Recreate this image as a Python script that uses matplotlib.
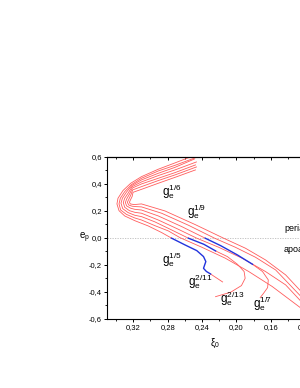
import matplotlib
matplotlib.use('Agg')
import matplotlib.pyplot as plt
from matplotlib.ticker import MultipleLocator, FuncFormatter

plt.rcParams['font.family'] = ['Liberation Sans', 'DejaVu Sans']
plt.rcParams['mathtext.fontset'] = 'custom'
plt.rcParams['mathtext.rm'] = 'Liberation Sans'
plt.rcParams['mathtext.it'] = 'Liberation Sans'

# ── Data: xi_0 vs e_p ─────────────────────────────────────────────
# family 1 (g_e^{1/5}): red part, blue part, red tail
o1_xi = [0.2535, 0.2714, 0.2909, 0.3104, 0.3229, 0.3319, 0.3377, 0.3389, 0.3365, 0.3299, 0.3182, 0.3026, 0.2870, 0.2753]
o1_e  = [0.600, 0.556, 0.509, 0.454, 0.405, 0.351, 0.294, 0.252, 0.202, 0.163, 0.128, 0.089, 0.040, -0.002]
o1b_xi = [0.2753, 0.2597, 0.2461, 0.2383, 0.2356, 0.2383, 0.2350, 0.2301]
o1b_e  = [-0.002, -0.052, -0.094, -0.138, -0.175, -0.225, -0.248, -0.267]
o1t_xi = [0.2301, 0.2161]
o1t_e  = [-0.267, -0.326]

o2_xi = [0.2453, 0.2714, 0.2909, 0.3104, 0.3221, 0.3299, 0.3350, 0.3365, 0.3346, 0.3280, 0.3182, 0.3104,
         0.2948, 0.2792, 0.2656, 0.2402, 0.2130, 0.1857, 0.1584, 0.1248]
o2_e  = [0.600, 0.538, 0.496, 0.442, 0.395, 0.343, 0.294, 0.252, 0.207, 0.175, 0.148, 0.133,
         0.091, 0.052, 0.002, -0.069, -0.150, -0.249, -0.360, -0.521]

# family 3 (g_e^{2/13}): red, blue, red hook
o3_xi = [0.2488, 0.2714, 0.2909, 0.3104, 0.3217, 0.3280, 0.3326, 0.3342, 0.3322, 0.3260, 0.3182, 0.3104, 0.2948, 0.2753, 0.2558]
o3_e  = [0.585, 0.523, 0.479, 0.430, 0.388, 0.338, 0.294, 0.257, 0.217, 0.188, 0.168, 0.158, 0.119, 0.059, -0.002]
o3b_xi = [0.2558, 0.2379, 0.2243]
o3b_e  = [-0.002, -0.047, -0.096]
o3t_xi = [0.2243, 0.2106, 0.1989, 0.1911, 0.1899, 0.1942, 0.2067, 0.2243]
o3t_e  = [-0.096, -0.138, -0.195, -0.249, -0.299, -0.353, -0.402, -0.435]

o4_xi = [0.2465, 0.2714, 0.2909, 0.3104, 0.3213, 0.3260, 0.3299, 0.3315, 0.3299, 0.3244, 0.3182, 0.3104,
         0.2909, 0.2675, 0.2461, 0.2207, 0.1935, 0.1662, 0.1428, 0.1248]
o4_e  = [0.563, 0.504, 0.462, 0.415, 0.380, 0.331, 0.294, 0.262, 0.227, 0.202, 0.190, 0.183,
         0.133, 0.064, -0.002, -0.069, -0.150, -0.249, -0.348, -0.471]

# family 5 (g_e^{1/7}): red, blue, red hook
o5_xi = [0.2476, 0.2714, 0.2909, 0.3104, 0.3209, 0.3244, 0.3276, 0.3291, 0.3276, 0.3229, 0.3182, 0.3104, 0.2909, 0.2636, 0.2363]
o5_e  = [0.541, 0.484, 0.442, 0.400, 0.370, 0.324, 0.289, 0.262, 0.237, 0.220, 0.212, 0.207, 0.163, 0.084, -0.002]
o5b_xi = [0.2363, 0.2184, 0.1989, 0.1814]
o5b_e  = [-0.002, -0.057, -0.126, -0.195]
o5t_xi = [0.1814, 0.1697, 0.1630, 0.1638, 0.1685, 0.1724]
o5t_e  = [-0.195, -0.249, -0.311, -0.368, -0.410, -0.442]

o6_xi = [0.2465, 0.2714, 0.2909, 0.3104, 0.3206, 0.3229, 0.3252, 0.3268, 0.3252, 0.3213, 0.3163, 0.3104,
         0.2870, 0.2558, 0.2254, 0.2013, 0.1779, 0.1545, 0.1248]
o6_e  = [0.526, 0.467, 0.425, 0.380, 0.356, 0.316, 0.286, 0.264, 0.244, 0.235, 0.232, 0.230,
         0.183, 0.094, -0.002, -0.069, -0.143, -0.237, -0.435]

o7_xi = [0.2476, 0.2714, 0.2909, 0.3104, 0.3202, 0.3213, 0.3233, 0.3244, 0.3233, 0.3190, 0.3104,
         0.2831, 0.2480, 0.2149, 0.1896, 0.1662, 0.1428, 0.1248]
o7_e  = [0.504, 0.449, 0.405, 0.360, 0.338, 0.306, 0.281, 0.264, 0.252, 0.247, 0.252,
         0.200, 0.099, -0.002, -0.076, -0.163, -0.274, -0.397]

red_curves  = [(o1_xi, o1_e), (o1t_xi, o1t_e), (o2_xi, o2_e), (o3_xi, o3_e), (o3t_xi, o3t_e),
               (o4_xi, o4_e), (o5_xi, o5_e), (o5t_xi, o5t_e), (o6_xi, o6_e), (o7_xi, o7_e)]
blue_curves = [(o1b_xi, o1b_e), (o3b_xi, o3b_e), (o5b_xi, o5b_e)]

labels   = [r'$\mathrm{g}_e^{1/6}$', r'$\mathrm{g}_e^{1/9}$', r'$\mathrm{g}_e^{1/5}$',
            r'$\mathrm{g}_e^{2/11}$', r'$\mathrm{g}_e^{2/13}$', r'$\mathrm{g}_e^{1/7}$']
label_xi = [0.2754, 0.2461, 0.2754, 0.242, 0.205, 0.170]
label_e  = [0.343, 0.195, -0.160, -0.324, -0.447, -0.484]

# ── Plot ───────────────────────────────────────────────────────────
fig = plt.figure(figsize=(3.0, 3.88), dpi=100)
ax = fig.add_axes([0.358, 0.178, 0.717, 0.4175])

for xs, ys in red_curves:
    ax.plot(xs, ys, color='#ff5c5c', lw=0.6)
for xs, ys in blue_curves:
    ax.plot(xs, ys, color='#2233dd', lw=1.0)

ax.axhline(0.0, color='#bbbbbb', lw=0.6, ls=(0, (1.5, 1.5)), zorder=0)

for lab, lx, ly in zip(labels, label_xi, label_e):
    ax.text(lx, ly, lab, fontsize=8.5, ha='center', va='center')

ax.text(0.1447, 0.067, 'periapsis', fontsize=6.5, ha='left', va='center')
ax.text(0.1447, -0.089, 'apoapsis', fontsize=6.5, ha='left', va='center')

ax.set_xlim(0.35, 0.10)
ax.set_ylim(-0.6, 0.6)
ax.xaxis.set_major_locator(MultipleLocator(0.04))
ax.xaxis.set_minor_locator(MultipleLocator(0.02))
ax.yaxis.set_major_locator(MultipleLocator(0.2))
ax.yaxis.set_minor_locator(MultipleLocator(0.1))

ax.xaxis.set_major_formatter(FuncFormatter(lambda v, p: f'{v:.2f}'.replace('.', ',')))
ax.yaxis.set_major_formatter(FuncFormatter(lambda v, p: f'{v:.1f}'.replace('.', ',').replace('-0,0', '0,0')))
ax.tick_params(which='major', direction='out', length=2.5, width=0.7, labelsize=5.5, pad=1.5)
ax.tick_params(which='minor', direction='out', length=1.5, width=0.6)

top = ax.secondary_xaxis('top')
top.xaxis.set_major_locator(MultipleLocator(0.04))
top.xaxis.set_minor_locator(MultipleLocator(0.02))
top.tick_params(which='major', direction='in', length=2.5, width=0.7, labeltop=False)
top.tick_params(which='minor', direction='in', length=1.5, width=0.6)

for s in ax.spines.values():
    s.set_linewidth(0.8)

ax.set_xlabel(r'$\xi_0$', fontsize=7, labelpad=4)
ax.set_ylabel(r'$e_p$', fontsize=7, rotation=0, va='center', ha='center')
ax.yaxis.set_label_coords(-0.105, 0.5)

fig.savefig('out.png', dpi=100)
